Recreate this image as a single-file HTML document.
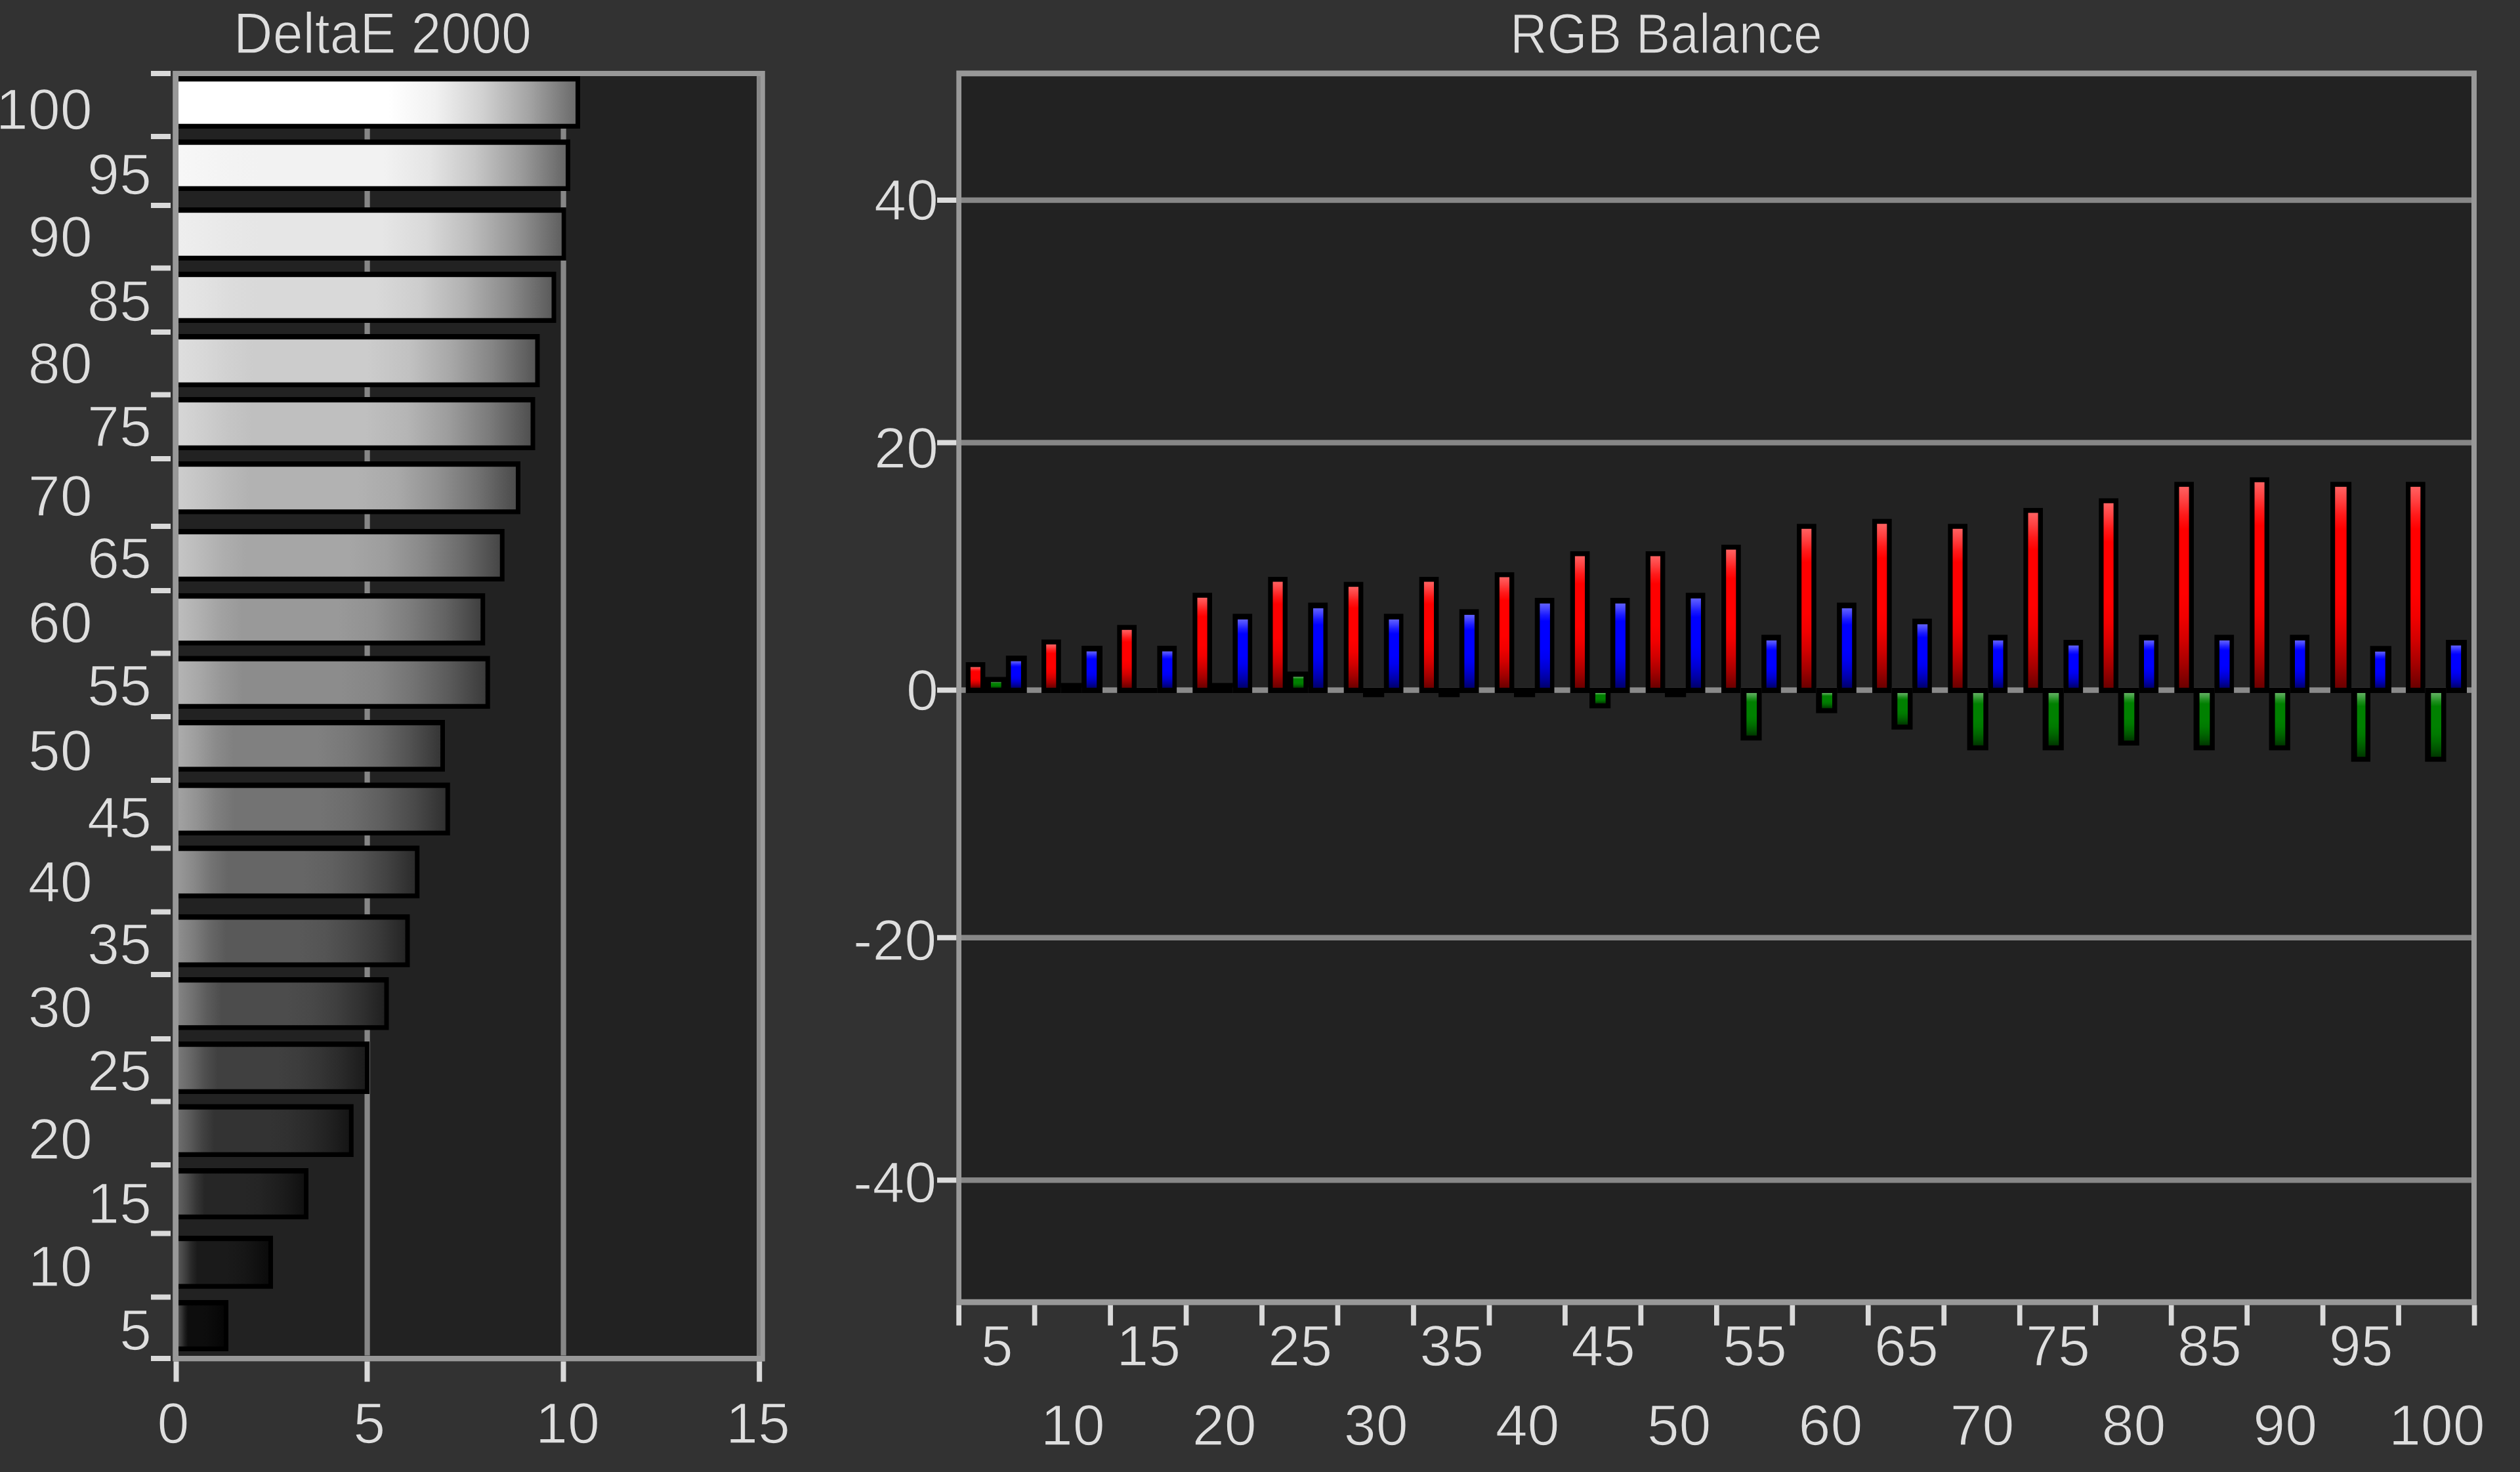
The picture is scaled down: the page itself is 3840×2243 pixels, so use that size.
<!DOCTYPE html>
<html lang="en"><head><meta charset="utf-8"><title>DeltaE 2000 / RGB Balance</title>
<style>html,body{margin:0;padding:0;background:#323232;overflow:hidden}body{width:3840px;height:2243px;font-family:"Liberation Sans",sans-serif}</style></head>
<body>
<svg width="3840" height="2243" viewBox="0 0 3840 2243" style="display:block;background:#323232" shape-rendering="geometricPrecision" text-rendering="geometricPrecision"><defs><filter id="soft" filterUnits="userSpaceOnUse" x="-20" y="-20" width="3880" height="2283" color-interpolation-filters="sRGB"><feGaussianBlur stdDeviation="0.55"/></filter><linearGradient id="g100" x1="0" y1="0" x2="1" y2="0"><stop offset="0.0" stop-color="#ffffff"/><stop offset="0.07" stop-color="#ffffff"/><stop offset="0.14" stop-color="#ffffff"/><stop offset="0.21" stop-color="#ffffff"/><stop offset="0.53" stop-color="#ffffff"/><stop offset="0.6475" stop-color="#f1f1f1"/><stop offset="0.765" stop-color="#d1d1d1"/><stop offset="0.8825" stop-color="#a4a4a4"/><stop offset="1.0" stop-color="#6b6b6b"/></linearGradient><linearGradient id="g95" x1="0" y1="0" x2="1" y2="0"><stop offset="0.0" stop-color="#f7f7f7"/><stop offset="0.07" stop-color="#f5f5f5"/><stop offset="0.14" stop-color="#f3f3f3"/><stop offset="0.21" stop-color="#f2f2f2"/><stop offset="0.53" stop-color="#f2f2f2"/><stop offset="0.6475" stop-color="#e5e5e5"/><stop offset="0.765" stop-color="#c7c7c7"/><stop offset="0.8825" stop-color="#9c9c9c"/><stop offset="1.0" stop-color="#666666"/></linearGradient><linearGradient id="g90" x1="0" y1="0" x2="1" y2="0"><stop offset="0.0" stop-color="#eeeeee"/><stop offset="0.07" stop-color="#ebebeb"/><stop offset="0.14" stop-color="#e8e8e8"/><stop offset="0.21" stop-color="#e6e6e6"/><stop offset="0.53" stop-color="#e6e6e6"/><stop offset="0.6475" stop-color="#d9d9d9"/><stop offset="0.765" stop-color="#bcbcbc"/><stop offset="0.8825" stop-color="#949494"/><stop offset="1.0" stop-color="#606060"/></linearGradient><linearGradient id="g85" x1="0" y1="0" x2="1" y2="0"><stop offset="0.0" stop-color="#e6e6e6"/><stop offset="0.07" stop-color="#e2e2e2"/><stop offset="0.14" stop-color="#dcdcdc"/><stop offset="0.21" stop-color="#d9d9d9"/><stop offset="0.53" stop-color="#d9d9d9"/><stop offset="0.6475" stop-color="#cdcdcd"/><stop offset="0.765" stop-color="#b2b2b2"/><stop offset="0.8825" stop-color="#8c8c8c"/><stop offset="1.0" stop-color="#5b5b5b"/></linearGradient><linearGradient id="g80" x1="0" y1="0" x2="1" y2="0"><stop offset="0.0" stop-color="#dedede"/><stop offset="0.07" stop-color="#d8d8d8"/><stop offset="0.14" stop-color="#d1d1d1"/><stop offset="0.21" stop-color="#cccccc"/><stop offset="0.53" stop-color="#cccccc"/><stop offset="0.6475" stop-color="#c1c1c1"/><stop offset="0.765" stop-color="#a7a7a7"/><stop offset="0.8825" stop-color="#848484"/><stop offset="1.0" stop-color="#565656"/></linearGradient><linearGradient id="g75" x1="0" y1="0" x2="1" y2="0"><stop offset="0.0" stop-color="#d6d6d6"/><stop offset="0.07" stop-color="#cecece"/><stop offset="0.14" stop-color="#c5c5c5"/><stop offset="0.21" stop-color="#bfbfbf"/><stop offset="0.53" stop-color="#bfbfbf"/><stop offset="0.6475" stop-color="#b5b5b5"/><stop offset="0.765" stop-color="#9d9d9d"/><stop offset="0.8825" stop-color="#7b7b7b"/><stop offset="1.0" stop-color="#505050"/></linearGradient><linearGradient id="g70" x1="0" y1="0" x2="1" y2="0"><stop offset="0.0" stop-color="#cdcdcd"/><stop offset="0.07" stop-color="#c4c4c4"/><stop offset="0.14" stop-color="#bababa"/><stop offset="0.21" stop-color="#b2b2b2"/><stop offset="0.53" stop-color="#b2b2b2"/><stop offset="0.6475" stop-color="#a9a9a9"/><stop offset="0.765" stop-color="#929292"/><stop offset="0.8825" stop-color="#737373"/><stop offset="1.0" stop-color="#4b4b4b"/></linearGradient><linearGradient id="g65" x1="0" y1="0" x2="1" y2="0"><stop offset="0.0" stop-color="#c5c5c5"/><stop offset="0.07" stop-color="#bababa"/><stop offset="0.14" stop-color="#aeaeae"/><stop offset="0.21" stop-color="#a6a6a6"/><stop offset="0.53" stop-color="#a6a6a6"/><stop offset="0.6475" stop-color="#9d9d9d"/><stop offset="0.765" stop-color="#888888"/><stop offset="0.8825" stop-color="#6b6b6b"/><stop offset="1.0" stop-color="#464646"/></linearGradient><linearGradient id="g60" x1="0" y1="0" x2="1" y2="0"><stop offset="0.0" stop-color="#bdbdbd"/><stop offset="0.07" stop-color="#b0b0b0"/><stop offset="0.14" stop-color="#a2a2a2"/><stop offset="0.21" stop-color="#999999"/><stop offset="0.53" stop-color="#999999"/><stop offset="0.6475" stop-color="#919191"/><stop offset="0.765" stop-color="#7d7d7d"/><stop offset="0.8825" stop-color="#636363"/><stop offset="1.0" stop-color="#404040"/></linearGradient><linearGradient id="g55" x1="0" y1="0" x2="1" y2="0"><stop offset="0.0" stop-color="#b4b4b4"/><stop offset="0.07" stop-color="#a7a7a7"/><stop offset="0.14" stop-color="#979797"/><stop offset="0.21" stop-color="#8c8c8c"/><stop offset="0.53" stop-color="#8c8c8c"/><stop offset="0.6475" stop-color="#858585"/><stop offset="0.765" stop-color="#737373"/><stop offset="0.8825" stop-color="#5a5a5a"/><stop offset="1.0" stop-color="#3b3b3b"/></linearGradient><linearGradient id="g50" x1="0" y1="0" x2="1" y2="0"><stop offset="0.0" stop-color="#acacac"/><stop offset="0.07" stop-color="#9d9d9d"/><stop offset="0.14" stop-color="#8b8b8b"/><stop offset="0.21" stop-color="#808080"/><stop offset="0.53" stop-color="#808080"/><stop offset="0.6475" stop-color="#787878"/><stop offset="0.765" stop-color="#696969"/><stop offset="0.8825" stop-color="#525252"/><stop offset="1.0" stop-color="#363636"/></linearGradient><linearGradient id="g45" x1="0" y1="0" x2="1" y2="0"><stop offset="0.0" stop-color="#a2a2a2"/><stop offset="0.07" stop-color="#929292"/><stop offset="0.14" stop-color="#7f7f7f"/><stop offset="0.21" stop-color="#737373"/><stop offset="0.53" stop-color="#737373"/><stop offset="0.6475" stop-color="#6c6c6c"/><stop offset="0.765" stop-color="#5e5e5e"/><stop offset="0.8825" stop-color="#4a4a4a"/><stop offset="1.0" stop-color="#303030"/></linearGradient><linearGradient id="g40" x1="0" y1="0" x2="1" y2="0"><stop offset="0.0" stop-color="#989898"/><stop offset="0.07" stop-color="#878787"/><stop offset="0.14" stop-color="#737373"/><stop offset="0.21" stop-color="#666666"/><stop offset="0.53" stop-color="#666666"/><stop offset="0.6475" stop-color="#606060"/><stop offset="0.765" stop-color="#545454"/><stop offset="0.8825" stop-color="#424242"/><stop offset="1.0" stop-color="#2b2b2b"/></linearGradient><linearGradient id="g35" x1="0" y1="0" x2="1" y2="0"><stop offset="0.0" stop-color="#8e8e8e"/><stop offset="0.07" stop-color="#7c7c7c"/><stop offset="0.14" stop-color="#676767"/><stop offset="0.21" stop-color="#595959"/><stop offset="0.53" stop-color="#595959"/><stop offset="0.6475" stop-color="#545454"/><stop offset="0.765" stop-color="#494949"/><stop offset="0.8825" stop-color="#3a3a3a"/><stop offset="1.0" stop-color="#252525"/></linearGradient><linearGradient id="g30" x1="0" y1="0" x2="1" y2="0"><stop offset="0.0" stop-color="#838383"/><stop offset="0.07" stop-color="#707070"/><stop offset="0.14" stop-color="#5b5b5b"/><stop offset="0.21" stop-color="#4c4c4c"/><stop offset="0.53" stop-color="#4c4c4c"/><stop offset="0.6475" stop-color="#484848"/><stop offset="0.765" stop-color="#3f3f3f"/><stop offset="0.8825" stop-color="#313131"/><stop offset="1.0" stop-color="#202020"/></linearGradient><linearGradient id="g25" x1="0" y1="0" x2="1" y2="0"><stop offset="0.0" stop-color="#787878"/><stop offset="0.07" stop-color="#656565"/><stop offset="0.14" stop-color="#4f4f4f"/><stop offset="0.21" stop-color="#404040"/><stop offset="0.53" stop-color="#404040"/><stop offset="0.6475" stop-color="#3c3c3c"/><stop offset="0.765" stop-color="#343434"/><stop offset="0.8825" stop-color="#292929"/><stop offset="1.0" stop-color="#1b1b1b"/></linearGradient><linearGradient id="g20" x1="0" y1="0" x2="1" y2="0"><stop offset="0.0" stop-color="#6d6d6d"/><stop offset="0.07" stop-color="#595959"/><stop offset="0.14" stop-color="#424242"/><stop offset="0.21" stop-color="#333333"/><stop offset="0.53" stop-color="#333333"/><stop offset="0.6475" stop-color="#303030"/><stop offset="0.765" stop-color="#2a2a2a"/><stop offset="0.8825" stop-color="#212121"/><stop offset="1.0" stop-color="#151515"/></linearGradient><linearGradient id="g15" x1="0" y1="0" x2="1" y2="0"><stop offset="0.0" stop-color="#616161"/><stop offset="0.07" stop-color="#4d4d4d"/><stop offset="0.14" stop-color="#363636"/><stop offset="0.21" stop-color="#262626"/><stop offset="0.53" stop-color="#262626"/><stop offset="0.6475" stop-color="#242424"/><stop offset="0.765" stop-color="#1f1f1f"/><stop offset="0.8825" stop-color="#191919"/><stop offset="1.0" stop-color="#101010"/></linearGradient><linearGradient id="g10" x1="0" y1="0" x2="1" y2="0"><stop offset="0.0" stop-color="#565656"/><stop offset="0.07" stop-color="#414141"/><stop offset="0.14" stop-color="#292929"/><stop offset="0.21" stop-color="#1a1a1a"/><stop offset="0.53" stop-color="#1a1a1a"/><stop offset="0.6475" stop-color="#181818"/><stop offset="0.765" stop-color="#151515"/><stop offset="0.8825" stop-color="#101010"/><stop offset="1.0" stop-color="#0b0b0b"/></linearGradient><linearGradient id="g5" x1="0" y1="0" x2="1" y2="0"><stop offset="0.0" stop-color="#4a4a4a"/><stop offset="0.07" stop-color="#353535"/><stop offset="0.14" stop-color="#1d1d1d"/><stop offset="0.21" stop-color="#0d0d0d"/><stop offset="0.53" stop-color="#0d0d0d"/><stop offset="0.6475" stop-color="#0c0c0c"/><stop offset="0.765" stop-color="#0a0a0a"/><stop offset="0.8825" stop-color="#080808"/><stop offset="1.0" stop-color="#050505"/></linearGradient><linearGradient id="gr" x1="0" y1="0" x2="0" y2="1"><stop offset="0.0" stop-color="#ff6161"/><stop offset="0.07" stop-color="#ff4040"/><stop offset="0.14" stop-color="#ff1a1a"/><stop offset="0.21" stop-color="#ff0000"/><stop offset="0.53" stop-color="#ff0000"/><stop offset="0.6475" stop-color="#f10000"/><stop offset="0.765" stop-color="#d10000"/><stop offset="0.8825" stop-color="#a40000"/><stop offset="1.0" stop-color="#6b0000"/></linearGradient><linearGradient id="gb" x1="0" y1="0" x2="0" y2="1"><stop offset="0.0" stop-color="#6161ff"/><stop offset="0.07" stop-color="#4040ff"/><stop offset="0.14" stop-color="#1a1aff"/><stop offset="0.21" stop-color="#0000ff"/><stop offset="0.53" stop-color="#0000ff"/><stop offset="0.6475" stop-color="#0000f1"/><stop offset="0.765" stop-color="#0000d1"/><stop offset="0.8825" stop-color="#0000a4"/><stop offset="1.0" stop-color="#00006b"/></linearGradient><linearGradient id="gg" x1="0" y1="0" x2="0" y2="1"><stop offset="0.0" stop-color="#61b061"/><stop offset="0.07" stop-color="#40a040"/><stop offset="0.14" stop-color="#1a8d1a"/><stop offset="0.21" stop-color="#008000"/><stop offset="0.53" stop-color="#008000"/><stop offset="0.6475" stop-color="#007900"/><stop offset="0.765" stop-color="#006900"/><stop offset="0.8825" stop-color="#005300"/><stop offset="1.0" stop-color="#003600"/></linearGradient></defs>
<rect x="0.00" y="0.00" width="3840.00" height="2243.00" fill="#323232"/>
<g filter="url(#soft)">
<rect x="-20" y="-20" width="3880" height="2283" fill="#323232"/>
<rect x="263.20" y="108.00" width="902.30" height="1966.30" fill="#989898"/>
<rect x="272.00" y="116.00" width="881.00" height="1950.00" fill="#222222"/>
<rect x="1153.00" y="116.00" width="6.00" height="1950.00" fill="#878787"/>
<rect x="1159.00" y="108.00" width="6.50" height="1966.30" fill="#9a9a9a"/>
<rect x="555.50" y="116.00" width="8.20" height="1949.50" fill="#878787"/>
<rect x="854.50" y="116.00" width="8.20" height="1949.50" fill="#878787"/>
<rect x="272.00" y="116.00" width="612.00" height="80.00" fill="#000"/>
<rect x="272.00" y="124.20" width="605.00" height="64.50" fill="url(#g100)"/>
<rect x="272.00" y="212.50" width="597.00" height="78.50" fill="#000"/>
<rect x="272.00" y="220.70" width="590.00" height="63.00" fill="url(#g95)"/>
<rect x="272.00" y="316.00" width="590.80" height="81.00" fill="#000"/>
<rect x="272.00" y="324.20" width="583.80" height="65.50" fill="url(#g90)"/>
<rect x="272.00" y="414.00" width="575.50" height="78.00" fill="#000"/>
<rect x="272.00" y="422.20" width="568.50" height="62.50" fill="url(#g85)"/>
<rect x="272.00" y="509.00" width="550.50" height="81.00" fill="#000"/>
<rect x="272.00" y="517.20" width="543.50" height="65.50" fill="url(#g80)"/>
<rect x="272.00" y="605.00" width="543.50" height="81.00" fill="#000"/>
<rect x="272.00" y="613.20" width="536.50" height="65.50" fill="url(#g75)"/>
<rect x="272.00" y="703.00" width="521.00" height="80.50" fill="#000"/>
<rect x="272.00" y="711.20" width="514.00" height="65.00" fill="url(#g70)"/>
<rect x="272.00" y="806.00" width="496.75" height="80.00" fill="#000"/>
<rect x="272.00" y="814.20" width="489.75" height="64.50" fill="url(#g65)"/>
<rect x="272.00" y="904.00" width="467.25" height="79.50" fill="#000"/>
<rect x="272.00" y="912.20" width="460.25" height="64.00" fill="url(#g60)"/>
<rect x="272.00" y="999.50" width="474.75" height="80.50" fill="#000"/>
<rect x="272.00" y="1007.70" width="467.75" height="65.00" fill="url(#g55)"/>
<rect x="272.00" y="1097.00" width="406.00" height="78.75" fill="#000"/>
<rect x="272.00" y="1105.20" width="399.00" height="63.25" fill="url(#g50)"/>
<rect x="272.00" y="1192.50" width="413.75" height="80.50" fill="#000"/>
<rect x="272.00" y="1200.70" width="406.75" height="65.00" fill="url(#g45)"/>
<rect x="272.00" y="1288.50" width="367.25" height="80.25" fill="#000"/>
<rect x="272.00" y="1296.70" width="360.25" height="64.75" fill="url(#g40)"/>
<rect x="272.00" y="1393.25" width="352.50" height="80.50" fill="#000"/>
<rect x="272.00" y="1401.45" width="345.50" height="65.00" fill="url(#g35)"/>
<rect x="272.00" y="1489.00" width="320.50" height="80.50" fill="#000"/>
<rect x="272.00" y="1497.20" width="313.50" height="65.00" fill="url(#g30)"/>
<rect x="272.00" y="1587.00" width="291.00" height="80.00" fill="#000"/>
<rect x="272.00" y="1595.20" width="284.00" height="64.50" fill="url(#g25)"/>
<rect x="272.00" y="1682.50" width="266.75" height="80.50" fill="#000"/>
<rect x="272.00" y="1690.70" width="259.75" height="65.00" fill="url(#g20)"/>
<rect x="272.00" y="1780.00" width="198.00" height="78.00" fill="#000"/>
<rect x="272.00" y="1788.20" width="191.00" height="62.50" fill="url(#g15)"/>
<rect x="272.00" y="1883.00" width="144.00" height="80.75" fill="#000"/>
<rect x="272.00" y="1891.20" width="137.00" height="65.25" fill="url(#g10)"/>
<rect x="272.00" y="1981.00" width="76.00" height="78.00" fill="#000"/>
<rect x="272.00" y="1989.20" width="69.00" height="62.50" fill="url(#g5)"/>
<rect x="230.00" y="108.00" width="30.00" height="8.00" fill="#dadada"/>
<rect x="230.00" y="204.00" width="30.00" height="8.00" fill="#dadada"/>
<rect x="230.00" y="309.00" width="30.00" height="8.00" fill="#dadada"/>
<rect x="230.00" y="404.50" width="30.00" height="8.00" fill="#dadada"/>
<rect x="230.00" y="502.00" width="30.00" height="8.00" fill="#dadada"/>
<rect x="230.00" y="597.50" width="30.00" height="8.00" fill="#dadada"/>
<rect x="230.00" y="695.00" width="30.00" height="8.00" fill="#dadada"/>
<rect x="230.00" y="798.00" width="30.00" height="8.00" fill="#dadada"/>
<rect x="230.00" y="896.00" width="30.00" height="8.00" fill="#dadada"/>
<rect x="230.00" y="991.50" width="30.00" height="8.00" fill="#dadada"/>
<rect x="230.00" y="1088.00" width="30.00" height="8.00" fill="#dadada"/>
<rect x="230.00" y="1185.00" width="30.00" height="8.00" fill="#dadada"/>
<rect x="230.00" y="1288.50" width="30.00" height="8.00" fill="#dadada"/>
<rect x="230.00" y="1385.50" width="30.00" height="8.00" fill="#dadada"/>
<rect x="230.00" y="1481.00" width="30.00" height="8.00" fill="#dadada"/>
<rect x="230.00" y="1579.00" width="30.00" height="8.00" fill="#dadada"/>
<rect x="230.00" y="1674.50" width="30.00" height="8.00" fill="#dadada"/>
<rect x="230.00" y="1771.00" width="30.00" height="8.00" fill="#dadada"/>
<rect x="230.00" y="1875.50" width="30.00" height="8.00" fill="#dadada"/>
<rect x="230.00" y="1972.50" width="30.00" height="8.00" fill="#dadada"/>
<rect x="230.00" y="2066.00" width="30.00" height="8.00" fill="#dadada"/>
<rect x="264.50" y="2074.50" width="8.00" height="31.00" fill="#dadada"/>
<rect x="555.50" y="2074.50" width="8.00" height="31.00" fill="#dadada"/>
<rect x="854.50" y="2074.50" width="8.00" height="31.00" fill="#dadada"/>
<rect x="1153.20" y="2074.50" width="8.00" height="31.00" fill="#dadada"/>
<text x="140.6" y="197.2" font-family="Liberation Sans, sans-serif" font-size="88" fill="#dedede" stroke="#323232" stroke-width="1.4" text-anchor="end">100</text>
<text x="231.0" y="295.7" font-family="Liberation Sans, sans-serif" font-size="88" fill="#dedede" stroke="#323232" stroke-width="1.4" text-anchor="end">95</text>
<text x="140.6" y="391.2" font-family="Liberation Sans, sans-serif" font-size="88" fill="#dedede" stroke="#323232" stroke-width="1.4" text-anchor="end">90</text>
<text x="231.0" y="488.7" font-family="Liberation Sans, sans-serif" font-size="88" fill="#dedede" stroke="#323232" stroke-width="1.4" text-anchor="end">85</text>
<text x="140.6" y="583.7" font-family="Liberation Sans, sans-serif" font-size="88" fill="#dedede" stroke="#323232" stroke-width="1.4" text-anchor="end">80</text>
<text x="231.0" y="680.2" font-family="Liberation Sans, sans-serif" font-size="88" fill="#dedede" stroke="#323232" stroke-width="1.4" text-anchor="end">75</text>
<text x="140.6" y="785.7" font-family="Liberation Sans, sans-serif" font-size="88" fill="#dedede" stroke="#323232" stroke-width="1.4" text-anchor="end">70</text>
<text x="231.0" y="880.7" font-family="Liberation Sans, sans-serif" font-size="88" fill="#dedede" stroke="#323232" stroke-width="1.4" text-anchor="end">65</text>
<text x="140.6" y="978.5" font-family="Liberation Sans, sans-serif" font-size="88" fill="#dedede" stroke="#323232" stroke-width="1.4" text-anchor="end">60</text>
<text x="231.0" y="1074.7" font-family="Liberation Sans, sans-serif" font-size="88" fill="#dedede" stroke="#323232" stroke-width="1.4" text-anchor="end">55</text>
<text x="140.6" y="1173.5" font-family="Liberation Sans, sans-serif" font-size="88" fill="#dedede" stroke="#323232" stroke-width="1.4" text-anchor="end">50</text>
<text x="231.0" y="1275.7" font-family="Liberation Sans, sans-serif" font-size="88" fill="#dedede" stroke="#323232" stroke-width="1.4" text-anchor="end">45</text>
<text x="140.6" y="1373.5" font-family="Liberation Sans, sans-serif" font-size="88" fill="#dedede" stroke="#323232" stroke-width="1.4" text-anchor="end">40</text>
<text x="231.0" y="1468.5" font-family="Liberation Sans, sans-serif" font-size="88" fill="#dedede" stroke="#323232" stroke-width="1.4" text-anchor="end">35</text>
<text x="140.6" y="1564.7" font-family="Liberation Sans, sans-serif" font-size="88" fill="#dedede" stroke="#323232" stroke-width="1.4" text-anchor="end">30</text>
<text x="231.0" y="1662.2" font-family="Liberation Sans, sans-serif" font-size="88" fill="#dedede" stroke="#323232" stroke-width="1.4" text-anchor="end">25</text>
<text x="140.6" y="1765.7" font-family="Liberation Sans, sans-serif" font-size="88" fill="#dedede" stroke="#323232" stroke-width="1.4" text-anchor="end">20</text>
<text x="231.0" y="1863.5" font-family="Liberation Sans, sans-serif" font-size="88" fill="#dedede" stroke="#323232" stroke-width="1.4" text-anchor="end">15</text>
<text x="140.6" y="1959.7" font-family="Liberation Sans, sans-serif" font-size="88" fill="#dedede" stroke="#323232" stroke-width="1.4" text-anchor="end">10</text>
<text x="231.0" y="2057.2" font-family="Liberation Sans, sans-serif" font-size="88" fill="#dedede" stroke="#323232" stroke-width="1.4" text-anchor="end">5</text>
<text x="264.0" y="2198.6" font-family="Liberation Sans, sans-serif" font-size="88" fill="#dedede" stroke="#323232" stroke-width="1.4" text-anchor="middle">0</text>
<text x="562.8" y="2198.6" font-family="Liberation Sans, sans-serif" font-size="88" fill="#dedede" stroke="#323232" stroke-width="1.4" text-anchor="middle">5</text>
<text x="865.0" y="2198.6" font-family="Liberation Sans, sans-serif" font-size="88" fill="#dedede" stroke="#323232" stroke-width="1.4" text-anchor="middle">10</text>
<text x="1155.0" y="2198.6" font-family="Liberation Sans, sans-serif" font-size="88" fill="#dedede" stroke="#323232" stroke-width="1.4" text-anchor="middle">15</text>
<text x="356.1" y="81.0" font-family="Liberation Sans, sans-serif" font-size="88.2" fill="#dedede" stroke="#323232" stroke-width="1.4" text-anchor="start" textLength="453.8" lengthAdjust="spacingAndGlyphs">DeltaE 2000</text>
<rect x="1457.30" y="107.50" width="2316.70" height="1881.20" fill="#989898"/>
<rect x="1465.00" y="116.30" width="2301.00" height="1863.40" fill="#222222"/>
<rect x="1465.00" y="300.80" width="2301.00" height="8.40" fill="#878787"/>
<rect x="1428.00" y="301.00" width="29.30" height="8.00" fill="#dcdcdc"/>
<rect x="1465.00" y="670.30" width="2301.00" height="8.40" fill="#878787"/>
<rect x="1428.00" y="670.50" width="29.30" height="8.00" fill="#dcdcdc"/>
<rect x="1465.00" y="1047.40" width="2301.00" height="8.40" fill="#8a8a8a"/>
<rect x="1428.00" y="1047.60" width="29.30" height="8.00" fill="#dcdcdc"/>
<rect x="1465.00" y="1424.60" width="2301.00" height="8.40" fill="#878787"/>
<rect x="1428.00" y="1424.80" width="29.30" height="8.00" fill="#dcdcdc"/>
<rect x="1465.00" y="1794.10" width="2301.00" height="8.40" fill="#878787"/>
<rect x="1428.00" y="1794.30" width="29.30" height="8.00" fill="#dcdcdc"/>
<text x="1430.0" y="334.7" font-family="Liberation Sans, sans-serif" font-size="88" fill="#dedede" stroke="#323232" stroke-width="1.4" text-anchor="end">40</text>
<text x="1430.0" y="712.7" font-family="Liberation Sans, sans-serif" font-size="88" fill="#dedede" stroke="#323232" stroke-width="1.4" text-anchor="end">20</text>
<text x="1430.0" y="1082.2" font-family="Liberation Sans, sans-serif" font-size="88" fill="#dedede" stroke="#323232" stroke-width="1.4" text-anchor="end">0</text>
<text x="1427.3" y="1463.2" font-family="Liberation Sans, sans-serif" font-size="88" fill="#dedede" stroke="#323232" stroke-width="1.4" text-anchor="end">-20</text>
<text x="1427.3" y="1832.0" font-family="Liberation Sans, sans-serif" font-size="88" fill="#dedede" stroke="#323232" stroke-width="1.4" text-anchor="end">-40</text>
<rect x="1457.30" y="1988.70" width="7.70" height="31.00" fill="#dadada"/>
<rect x="1572.77" y="1988.70" width="7.70" height="31.00" fill="#dadada"/>
<rect x="1688.24" y="1988.70" width="7.70" height="31.00" fill="#dadada"/>
<rect x="1803.71" y="1988.70" width="7.70" height="31.00" fill="#dadada"/>
<rect x="1919.18" y="1988.70" width="7.70" height="31.00" fill="#dadada"/>
<rect x="2034.65" y="1988.70" width="7.70" height="31.00" fill="#dadada"/>
<rect x="2150.12" y="1988.70" width="7.70" height="31.00" fill="#dadada"/>
<rect x="2265.59" y="1988.70" width="7.70" height="31.00" fill="#dadada"/>
<rect x="2381.06" y="1988.70" width="7.70" height="31.00" fill="#dadada"/>
<rect x="2496.53" y="1988.70" width="7.70" height="31.00" fill="#dadada"/>
<rect x="2612.00" y="1988.70" width="7.70" height="31.00" fill="#dadada"/>
<rect x="2727.47" y="1988.70" width="7.70" height="31.00" fill="#dadada"/>
<rect x="2842.94" y="1988.70" width="7.70" height="31.00" fill="#dadada"/>
<rect x="2958.41" y="1988.70" width="7.70" height="31.00" fill="#dadada"/>
<rect x="3073.88" y="1988.70" width="7.70" height="31.00" fill="#dadada"/>
<rect x="3189.35" y="1988.70" width="7.70" height="31.00" fill="#dadada"/>
<rect x="3304.82" y="1988.70" width="7.70" height="31.00" fill="#dadada"/>
<rect x="3420.29" y="1988.70" width="7.70" height="31.00" fill="#dadada"/>
<rect x="3535.76" y="1988.70" width="7.70" height="31.00" fill="#dadada"/>
<rect x="3651.23" y="1988.70" width="7.70" height="31.00" fill="#dadada"/>
<rect x="3766.70" y="1988.70" width="7.70" height="31.00" fill="#dadada"/>
<text x="1519.3" y="2081.0" font-family="Liberation Sans, sans-serif" font-size="88" fill="#dedede" stroke="#323232" stroke-width="1.4" text-anchor="middle">5</text>
<text x="1634.8" y="2201.7" font-family="Liberation Sans, sans-serif" font-size="88" fill="#dedede" stroke="#323232" stroke-width="1.4" text-anchor="middle">10</text>
<text x="1750.3" y="2081.0" font-family="Liberation Sans, sans-serif" font-size="88" fill="#dedede" stroke="#323232" stroke-width="1.4" text-anchor="middle">15</text>
<text x="1865.7" y="2201.7" font-family="Liberation Sans, sans-serif" font-size="88" fill="#dedede" stroke="#323232" stroke-width="1.4" text-anchor="middle">20</text>
<text x="1981.2" y="2081.0" font-family="Liberation Sans, sans-serif" font-size="88" fill="#dedede" stroke="#323232" stroke-width="1.4" text-anchor="middle">25</text>
<text x="2096.7" y="2201.7" font-family="Liberation Sans, sans-serif" font-size="88" fill="#dedede" stroke="#323232" stroke-width="1.4" text-anchor="middle">30</text>
<text x="2212.2" y="2081.0" font-family="Liberation Sans, sans-serif" font-size="88" fill="#dedede" stroke="#323232" stroke-width="1.4" text-anchor="middle">35</text>
<text x="2327.6" y="2201.7" font-family="Liberation Sans, sans-serif" font-size="88" fill="#dedede" stroke="#323232" stroke-width="1.4" text-anchor="middle">40</text>
<text x="2443.1" y="2081.0" font-family="Liberation Sans, sans-serif" font-size="88" fill="#dedede" stroke="#323232" stroke-width="1.4" text-anchor="middle">45</text>
<text x="2558.6" y="2201.7" font-family="Liberation Sans, sans-serif" font-size="88" fill="#dedede" stroke="#323232" stroke-width="1.4" text-anchor="middle">50</text>
<text x="2674.0" y="2081.0" font-family="Liberation Sans, sans-serif" font-size="88" fill="#dedede" stroke="#323232" stroke-width="1.4" text-anchor="middle">55</text>
<text x="2789.5" y="2201.7" font-family="Liberation Sans, sans-serif" font-size="88" fill="#dedede" stroke="#323232" stroke-width="1.4" text-anchor="middle">60</text>
<text x="2905.0" y="2081.0" font-family="Liberation Sans, sans-serif" font-size="88" fill="#dedede" stroke="#323232" stroke-width="1.4" text-anchor="middle">65</text>
<text x="3020.4" y="2201.7" font-family="Liberation Sans, sans-serif" font-size="88" fill="#dedede" stroke="#323232" stroke-width="1.4" text-anchor="middle">70</text>
<text x="3135.9" y="2081.0" font-family="Liberation Sans, sans-serif" font-size="88" fill="#dedede" stroke="#323232" stroke-width="1.4" text-anchor="middle">75</text>
<text x="3251.4" y="2201.7" font-family="Liberation Sans, sans-serif" font-size="88" fill="#dedede" stroke="#323232" stroke-width="1.4" text-anchor="middle">80</text>
<text x="3366.9" y="2081.0" font-family="Liberation Sans, sans-serif" font-size="88" fill="#dedede" stroke="#323232" stroke-width="1.4" text-anchor="middle">85</text>
<text x="3482.3" y="2201.7" font-family="Liberation Sans, sans-serif" font-size="88" fill="#dedede" stroke="#323232" stroke-width="1.4" text-anchor="middle">90</text>
<text x="3597.8" y="2081.0" font-family="Liberation Sans, sans-serif" font-size="88" fill="#dedede" stroke="#323232" stroke-width="1.4" text-anchor="middle">95</text>
<text x="3713.3" y="2201.7" font-family="Liberation Sans, sans-serif" font-size="88" fill="#dedede" stroke="#323232" stroke-width="1.4" text-anchor="middle">100</text>
<text x="2300.9" y="81.4" font-family="Liberation Sans, sans-serif" font-size="86.2" fill="#dedede" stroke="#323232" stroke-width="1.4" text-anchor="start" textLength="475.7" lengthAdjust="spacingAndGlyphs">RGB Balance</text>
<rect x="1471.70" y="1009.00" width="29.70" height="47.00" fill="#000"/>
<rect x="1478.90" y="1016.50" width="15.10" height="31.50" fill="url(#gr)"/>
<rect x="1532.80" y="999.00" width="31.90" height="57.00" fill="#000"/>
<rect x="1540.40" y="1007.60" width="15.50" height="40.40" fill="url(#gb)"/>
<rect x="1501.00" y="1031.50" width="32.20" height="24.50" fill="#000"/>
<rect x="1510.00" y="1039.50" width="15.70" height="8.50" fill="url(#gg)"/>
<rect x="1587.00" y="974.50" width="29.70" height="81.50" fill="#000"/>
<rect x="1594.20" y="982.00" width="15.10" height="66.00" fill="url(#gr)"/>
<rect x="1648.10" y="984.00" width="31.90" height="72.00" fill="#000"/>
<rect x="1655.70" y="992.60" width="15.50" height="55.40" fill="url(#gb)"/>
<rect x="1616.30" y="1040.70" width="32.20" height="15.30" fill="#000"/>
<rect x="1702.30" y="952.30" width="29.70" height="103.70" fill="#000"/>
<rect x="1709.50" y="959.80" width="15.10" height="88.20" fill="url(#gr)"/>
<rect x="1763.40" y="984.00" width="29.70" height="72.00" fill="#000"/>
<rect x="1771.00" y="992.60" width="15.50" height="55.40" fill="url(#gb)"/>
<rect x="1731.60" y="1047.50" width="32.20" height="8.50" fill="#000"/>
<rect x="1817.30" y="903.30" width="29.70" height="152.70" fill="#000"/>
<rect x="1824.50" y="910.80" width="15.10" height="137.20" fill="url(#gr)"/>
<rect x="1878.40" y="935.30" width="29.70" height="120.70" fill="#000"/>
<rect x="1886.00" y="943.90" width="15.50" height="104.10" fill="url(#gb)"/>
<rect x="1846.60" y="1040.70" width="32.20" height="15.30" fill="#000"/>
<rect x="1932.30" y="879.00" width="29.70" height="177.00" fill="#000"/>
<rect x="1939.50" y="886.50" width="15.10" height="161.50" fill="url(#gr)"/>
<rect x="1993.40" y="918.30" width="29.70" height="137.70" fill="#000"/>
<rect x="2001.00" y="926.90" width="15.50" height="121.10" fill="url(#gb)"/>
<rect x="1961.60" y="1023.30" width="32.20" height="32.70" fill="#000"/>
<rect x="1970.60" y="1031.30" width="15.70" height="16.70" fill="url(#gg)"/>
<rect x="2047.70" y="886.70" width="29.70" height="169.30" fill="#000"/>
<rect x="2054.90" y="894.20" width="15.10" height="153.80" fill="url(#gr)"/>
<rect x="2108.80" y="935.30" width="29.70" height="120.70" fill="#000"/>
<rect x="2116.40" y="943.90" width="15.50" height="104.10" fill="url(#gb)"/>
<rect x="2077.00" y="1047.50" width="32.20" height="14.80" fill="#000"/>
<rect x="2162.70" y="879.00" width="29.70" height="177.00" fill="#000"/>
<rect x="2169.90" y="886.50" width="15.10" height="161.50" fill="url(#gr)"/>
<rect x="2223.80" y="928.30" width="29.70" height="127.70" fill="#000"/>
<rect x="2231.40" y="936.90" width="15.50" height="111.10" fill="url(#gb)"/>
<rect x="2192.00" y="1047.50" width="32.20" height="14.80" fill="#000"/>
<rect x="2277.70" y="872.00" width="29.70" height="184.00" fill="#000"/>
<rect x="2284.90" y="879.50" width="15.10" height="168.50" fill="url(#gr)"/>
<rect x="2338.80" y="911.00" width="29.70" height="145.00" fill="#000"/>
<rect x="2346.40" y="919.60" width="15.50" height="128.40" fill="url(#gb)"/>
<rect x="2307.00" y="1047.50" width="32.20" height="14.80" fill="#000"/>
<rect x="2392.70" y="840.00" width="29.70" height="216.00" fill="#000"/>
<rect x="2399.90" y="847.50" width="15.10" height="200.50" fill="url(#gr)"/>
<rect x="2453.80" y="911.00" width="29.70" height="145.00" fill="#000"/>
<rect x="2461.40" y="919.60" width="15.50" height="128.40" fill="url(#gb)"/>
<rect x="2422.00" y="1047.50" width="32.20" height="31.80" fill="#000"/>
<rect x="2431.00" y="1056.00" width="15.70" height="15.80" fill="url(#gg)"/>
<rect x="2507.70" y="840.00" width="29.70" height="216.00" fill="#000"/>
<rect x="2514.90" y="847.50" width="15.10" height="200.50" fill="url(#gr)"/>
<rect x="2568.80" y="903.30" width="29.70" height="152.70" fill="#000"/>
<rect x="2576.40" y="911.90" width="15.50" height="136.10" fill="url(#gb)"/>
<rect x="2537.00" y="1047.50" width="32.20" height="14.80" fill="#000"/>
<rect x="2623.00" y="830.00" width="29.70" height="226.00" fill="#000"/>
<rect x="2630.20" y="837.50" width="15.10" height="210.50" fill="url(#gr)"/>
<rect x="2684.10" y="967.30" width="29.70" height="88.70" fill="#000"/>
<rect x="2691.70" y="975.90" width="15.50" height="72.10" fill="url(#gb)"/>
<rect x="2652.30" y="1047.50" width="32.20" height="80.80" fill="#000"/>
<rect x="2661.30" y="1056.00" width="15.70" height="64.80" fill="url(#gg)"/>
<rect x="2738.00" y="798.30" width="29.70" height="257.70" fill="#000"/>
<rect x="2745.20" y="805.80" width="15.10" height="242.20" fill="url(#gr)"/>
<rect x="2799.10" y="918.30" width="29.70" height="137.70" fill="#000"/>
<rect x="2806.70" y="926.90" width="15.50" height="121.10" fill="url(#gb)"/>
<rect x="2767.30" y="1047.50" width="32.20" height="39.20" fill="#000"/>
<rect x="2776.30" y="1056.00" width="15.70" height="23.20" fill="url(#gg)"/>
<rect x="2853.00" y="790.70" width="29.70" height="265.30" fill="#000"/>
<rect x="2860.20" y="798.20" width="15.10" height="249.80" fill="url(#gr)"/>
<rect x="2914.10" y="942.70" width="29.70" height="113.30" fill="#000"/>
<rect x="2921.70" y="951.30" width="15.50" height="96.70" fill="url(#gb)"/>
<rect x="2882.30" y="1047.50" width="32.20" height="64.20" fill="#000"/>
<rect x="2891.30" y="1056.00" width="15.70" height="48.20" fill="url(#gg)"/>
<rect x="2968.30" y="798.30" width="29.70" height="257.70" fill="#000"/>
<rect x="2975.50" y="805.80" width="15.10" height="242.20" fill="url(#gr)"/>
<rect x="3029.40" y="967.30" width="29.70" height="88.70" fill="#000"/>
<rect x="3037.00" y="975.90" width="15.50" height="72.10" fill="url(#gb)"/>
<rect x="2997.60" y="1047.50" width="32.20" height="95.80" fill="#000"/>
<rect x="3006.60" y="1056.00" width="15.70" height="79.80" fill="url(#gg)"/>
<rect x="3083.30" y="774.00" width="29.70" height="282.00" fill="#000"/>
<rect x="3090.50" y="781.50" width="15.10" height="266.50" fill="url(#gr)"/>
<rect x="3144.40" y="975.00" width="29.70" height="81.00" fill="#000"/>
<rect x="3152.00" y="983.60" width="15.50" height="64.40" fill="url(#gb)"/>
<rect x="3112.60" y="1047.50" width="32.20" height="95.80" fill="#000"/>
<rect x="3121.60" y="1056.00" width="15.70" height="79.80" fill="url(#gg)"/>
<rect x="3198.30" y="759.30" width="29.70" height="296.70" fill="#000"/>
<rect x="3205.50" y="766.80" width="15.10" height="281.20" fill="url(#gr)"/>
<rect x="3259.40" y="967.30" width="29.70" height="88.70" fill="#000"/>
<rect x="3267.00" y="975.90" width="15.50" height="72.10" fill="url(#gb)"/>
<rect x="3227.60" y="1047.50" width="32.20" height="88.50" fill="#000"/>
<rect x="3236.60" y="1056.00" width="15.70" height="72.50" fill="url(#gg)"/>
<rect x="3313.30" y="734.30" width="29.70" height="321.70" fill="#000"/>
<rect x="3320.50" y="741.80" width="15.10" height="306.20" fill="url(#gr)"/>
<rect x="3374.40" y="967.30" width="29.70" height="88.70" fill="#000"/>
<rect x="3382.00" y="975.90" width="15.50" height="72.10" fill="url(#gb)"/>
<rect x="3342.60" y="1047.50" width="32.20" height="95.80" fill="#000"/>
<rect x="3351.60" y="1056.00" width="15.70" height="79.80" fill="url(#gg)"/>
<rect x="3428.30" y="727.30" width="29.70" height="328.70" fill="#000"/>
<rect x="3435.50" y="734.80" width="15.10" height="313.20" fill="url(#gr)"/>
<rect x="3489.40" y="967.30" width="29.70" height="88.70" fill="#000"/>
<rect x="3497.00" y="975.90" width="15.50" height="72.10" fill="url(#gb)"/>
<rect x="3457.60" y="1047.50" width="32.20" height="95.80" fill="#000"/>
<rect x="3466.60" y="1056.00" width="15.70" height="79.80" fill="url(#gg)"/>
<rect x="3551.00" y="734.30" width="32.10" height="321.70" fill="#000"/>
<rect x="3558.20" y="741.80" width="17.50" height="306.20" fill="url(#gr)"/>
<rect x="3611.60" y="984.30" width="32.40" height="71.70" fill="#000"/>
<rect x="3619.20" y="992.90" width="15.50" height="55.10" fill="url(#gb)"/>
<rect x="3582.70" y="1047.50" width="29.30" height="113.20" fill="#000"/>
<rect x="3591.70" y="1056.00" width="12.80" height="97.20" fill="url(#gg)"/>
<rect x="3666.00" y="734.30" width="29.70" height="321.70" fill="#000"/>
<rect x="3673.20" y="741.80" width="15.10" height="306.20" fill="url(#gr)"/>
<rect x="3727.10" y="975.00" width="31.90" height="81.00" fill="#000"/>
<rect x="3734.70" y="983.60" width="15.50" height="64.40" fill="url(#gb)"/>
<rect x="3695.30" y="1047.50" width="32.20" height="113.20" fill="#000"/>
<rect x="3704.30" y="1056.00" width="15.70" height="97.20" fill="url(#gg)"/>
</g>
</svg>
</body></html>
